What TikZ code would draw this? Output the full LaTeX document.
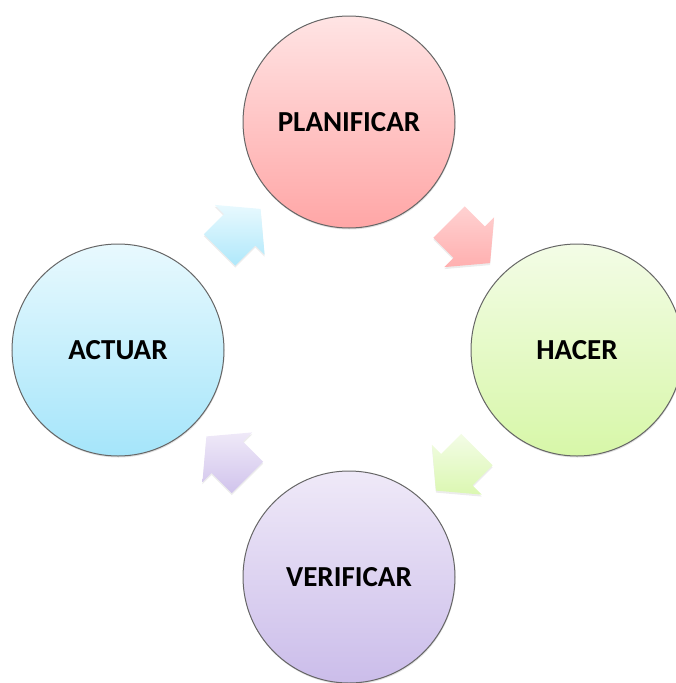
\documentclass[tikz,border=0pt]{standalone}
\usepackage{fontspec}
\setmainfont{Carlito}
\usetikzlibrary{shapes.arrows,shadows,calc}

\definecolor{planTop}{RGB}{255,228,228}
\definecolor{planBot}{RGB}{255,166,166}
\definecolor{hacTop}{RGB}{243,252,230}
\definecolor{hacBot}{RGB}{215,247,168}
\definecolor{verTop}{RGB}{239,233,248}
\definecolor{verBot}{RGB}{203,189,234}
\definecolor{actTop}{RGB}{232,249,254}
\definecolor{actBot}{RGB}{165,229,250}

\begin{document}
\begin{tikzpicture}[x=1pt,y=-1pt,
	phase/.style={circle,draw=black!60,line width=1pt,minimum size=212pt,inner sep=0pt,
		font=\fontsize{29}{34}\selectfont\bfseries,
		drop shadow={shadow xshift=.5pt,shadow yshift=-1.5pt,opacity=.25}},
	flow/.style={single arrow,draw=none,minimum height=58pt,inner xsep=0pt,inner ysep=22pt,
		single arrow head extend=13pt,single arrow tip angle=100,rotate=#1,
		drop shadow={shadow xshift=0pt,shadow yshift=-2pt,opacity=.15}}]
	\useasboundingbox (0,0) rectangle (675,683);

	% the four phases
	\node[phase,top color=planTop,bottom color=planBot] (plan) at (349,122) {PLANIFICAR};
	\node[phase,top color=hacTop,bottom color=hacBot] (hac) at (577,350) {HACER};
	\node[phase,top color=verTop,bottom color=verBot] (ver) at (349,577) {VERIFICAR};
	\node[phase,top color=actTop,bottom color=actBot] (act) at (118,350) {ACTUAR};

	% arrows between them
	\node[top color=actTop,bottom color=actBot!85!actTop,flow=45] (a1) at ($(act)!0.5!(plan)$) {};
	\node[top color=planTop!70!planBot,bottom color=planBot!85!planTop,flow=-45] (a2) at ($(plan)!0.5!(hac)$) {};
	\node[top color=hacTop,bottom color=hacBot!85!hacTop,flow=-135] (a3) at ($(hac)!0.5!(ver)$) {};
	\node[top color=verTop,bottom color=verBot!85!verTop,flow=135] (a4) at ($(ver)!0.5!(act)$) {};
\end{tikzpicture}
\end{document}
